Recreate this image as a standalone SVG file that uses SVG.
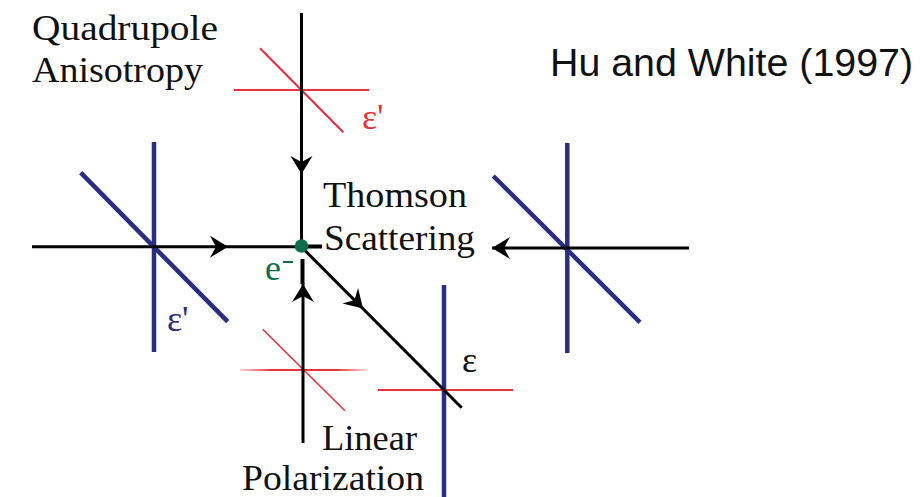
<svg xmlns="http://www.w3.org/2000/svg" width="924" height="497" viewBox="0 0 924 497">
<style>
.bk{stroke:#000;stroke-width:3;fill:none;stroke-linecap:butt}
.bl{stroke:#2b2e80;stroke-width:4.5;fill:none}
.rd{stroke:#e6323e;stroke-width:2.2;fill:none}
.rdt{stroke:#e6323e;stroke-width:1.6;fill:none}
.serif{font-family:"Liberation Serif","Times New Roman",serif;fill:#111}
.lab{font-size:35px}
.eps{font-family:"Liberation Serif","Times New Roman",serif;font-size:36px}
</style>
<defs>
<path id="ah" d="M0,0 L-18,-11 L-12,0 L-18,11 Z" fill="#000"/>
<linearGradient id="fadeH" gradientUnits="userSpaceOnUse" x1="240" y1="370" x2="367" y2="370">
<stop offset="0" stop-color="#e6323e" stop-opacity="0.2"/>
<stop offset="0.25" stop-color="#e6323e" stop-opacity="1"/>
<stop offset="0.75" stop-color="#e6323e" stop-opacity="1"/>
<stop offset="1" stop-color="#e6323e" stop-opacity="0.2"/>
</linearGradient>
</defs>
<rect width="924" height="497" fill="#fff"/>

<g id="credit"><text x="550" y="76" font-family="'Liberation Sans',Arial,sans-serif" font-size="39" fill="#111" textLength="363" lengthAdjust="spacingAndGlyphs">Hu and White (1997)</text></g>

<g id="quadrupole-label"><text class="serif lab" x="32" y="40" textLength="186" lengthAdjust="spacingAndGlyphs">Quadrupole</text><text class="serif lab" x="32" y="82" textLength="171" lengthAdjust="spacingAndGlyphs">Anisotropy</text></g>

<g id="top-cross"><line class="rd" x1="234" y1="90" x2="369" y2="90"/><line class="rd" x1="260" y1="48.3" x2="343.3" y2="132.3"/><text class="eps" x="362" y="129" fill="#e6323e">ε'</text></g>

<g id="left-cross"><line class="bl" x1="154" y1="142" x2="154" y2="352"/><line class="bl" x1="80.7" y1="172.7" x2="227.7" y2="321.7"/><text class="eps" x="167" y="331" fill="#2b2e80">ε'</text></g>

<g id="right-cross"><line class="bl" x1="567.3" y1="143" x2="567.3" y2="353"/><line class="bl" x1="493.3" y1="176" x2="640" y2="322.3"/></g>

<g id="bottom-left-cross"><line x1="240" y1="370" x2="367" y2="370" stroke="url(#fadeH)" stroke-width="1.8"/><line class="rdt" x1="262.7" y1="329.3" x2="345" y2="410.7"/></g>

<g id="bottom-right-cross"><line class="bl" x1="444" y1="285" x2="444" y2="497"/><line class="rd" x1="378" y1="390" x2="513" y2="390"/><text class="eps" x="462" y="372" fill="#111">ε</text></g>

<g id="connectors">
<line class="bk" x1="32" y1="246.7" x2="301.5" y2="246.7"/>
<line class="bk" x1="492" y1="248" x2="689" y2="248"/>
<line class="bk" x1="301.5" y1="13" x2="301.5" y2="247"/>
<line class="bk" x1="303" y1="443" x2="303" y2="283"/>
<line class="bk" x1="301.5" y1="247" x2="461.7" y2="407.7"/>
<line stroke="#000" stroke-width="4" x1="301" y1="246.5" x2="322" y2="246.5"/>
<line stroke="#000" stroke-width="4" x1="302.5" y1="259" x2="302.5" y2="284"/>
<use href="#ah" transform="translate(228,246.7)"/>
<use href="#ah" transform="translate(492,248) rotate(180)"/>
<use href="#ah" transform="translate(301.5,174) rotate(90)"/>
<use href="#ah" transform="translate(303,284) rotate(-90)"/>
<use href="#ah" transform="translate(363,308.5) rotate(45)"/>
</g>

<g id="electron"><circle cx="301.5" cy="246" r="6.8" fill="#0e6b4c"/><text x="265" y="280" font-family="'Liberation Serif','Times New Roman',serif" font-size="36" fill="#0e6b4c">e</text><line x1="283" y1="262" x2="293" y2="262" stroke="#0e6b4c" stroke-width="2"/></g>

<g id="thomson-label"><text class="serif lab" x="323" y="207" textLength="144" lengthAdjust="spacingAndGlyphs">Thomson</text><text class="serif lab" x="324" y="249.5" textLength="151" lengthAdjust="spacingAndGlyphs">Scattering</text></g>

<g id="linear-label"><text class="serif lab" x="322" y="450" textLength="95" lengthAdjust="spacingAndGlyphs">Linear</text><text class="serif lab" x="242" y="490" textLength="182" lengthAdjust="spacingAndGlyphs">Polarization</text></g>
</svg>
